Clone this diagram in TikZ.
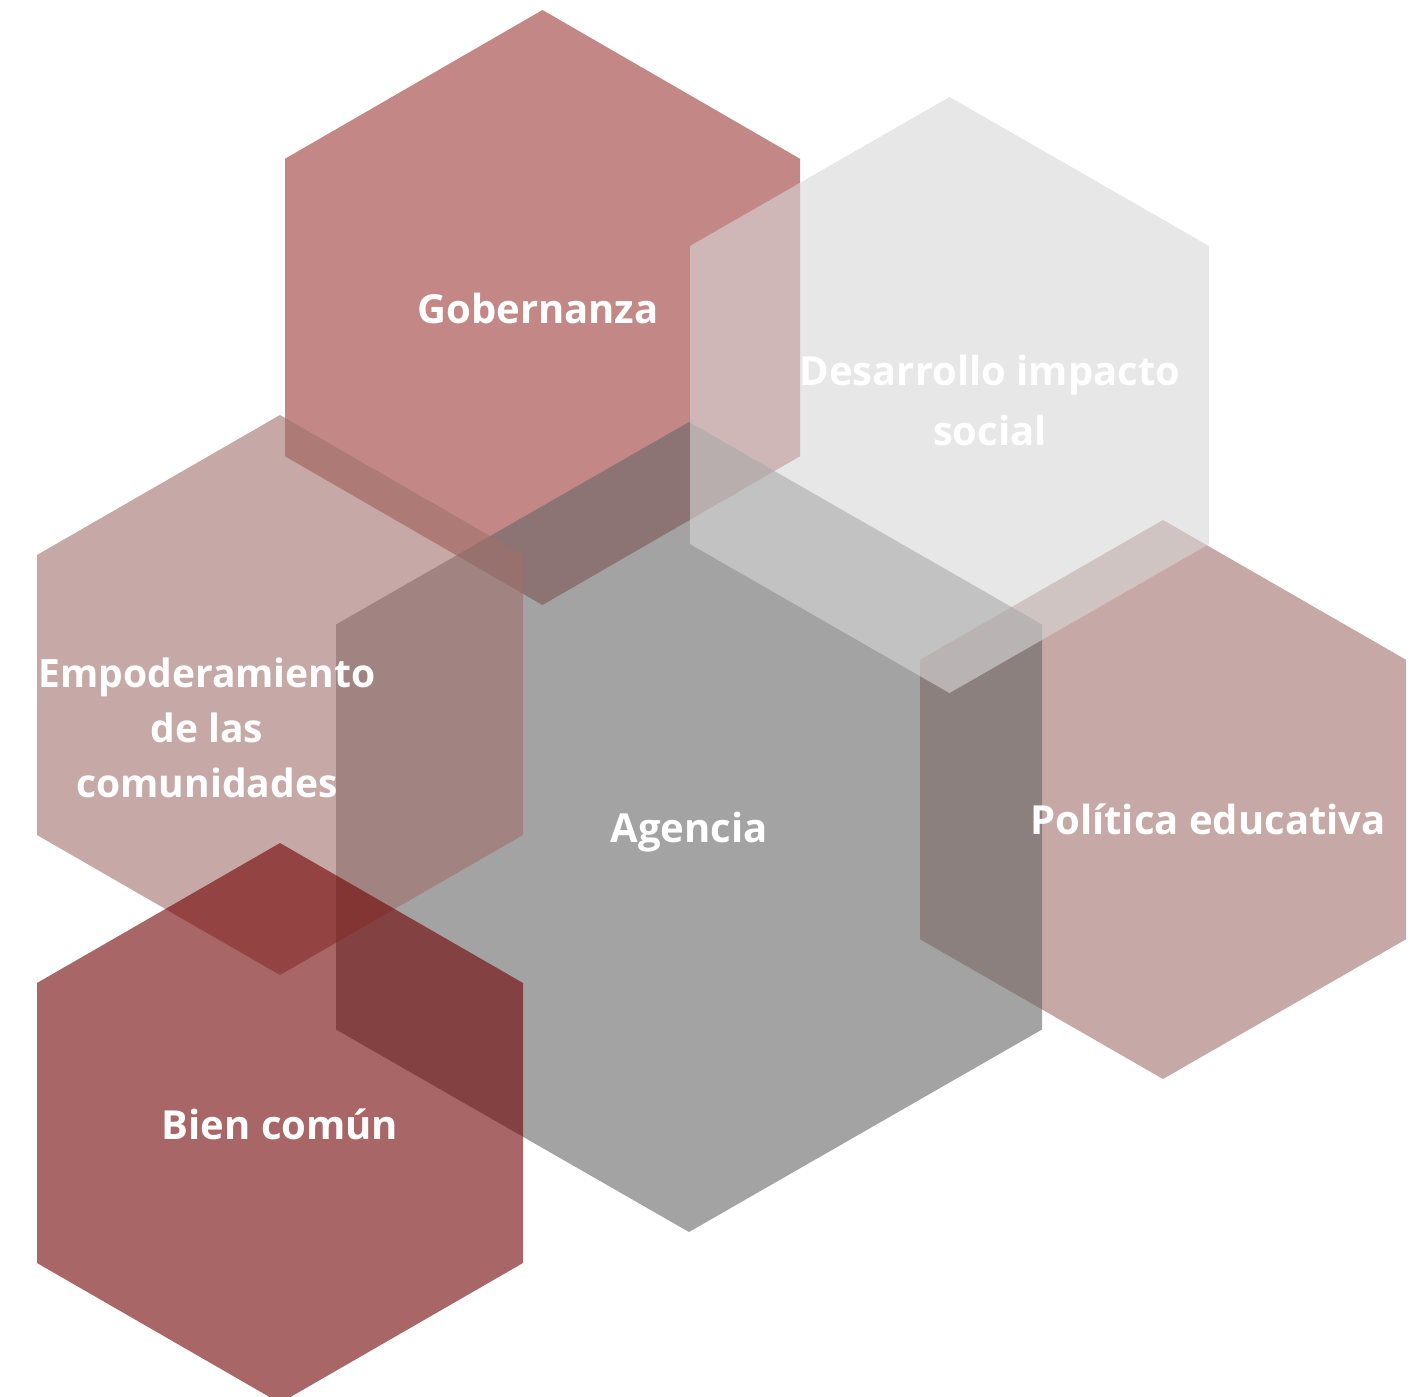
\documentclass[tikz,border=0pt]{standalone}
\usepackage{fontspec}
\setmainfont{Open Sans}
\definecolor{gobc}{RGB}{155,57,53}
\definecolor{empc}{RGB}{160,112,107}
\definecolor{agec}{RGB}{102,102,102}
\definecolor{desc}{RGB}{215,215,215}
\definecolor{bienc}{RGB}{112,0,0}
\newcommand{\hexpath}[4]{(#1,#2-#4) -- (#1+#3,#2-#4/2) -- (#1+#3,#2+#4/2) -- (#1,#2+#4) -- (#1-#3,#2+#4/2) -- (#1-#3,#2-#4/2) -- cycle}
\tikzset{
  hexa/.style={fill=#1, fill opacity=0.6, draw=none},
  lbl/.style={text=white, font=\fontsize{40}{56}\selectfont\bfseries, align=center, inner sep=0pt}
}
\begin{document}
\begin{tikzpicture}[x=1pt,y=-1pt]
\useasboundingbox (0,0) rectangle (1417,1397);
\clip (0,0) rectangle (1417,1397);
% hexagons in stacking order
\path[hexa=gobc] \hexpath{542.5}{307.5}{257.5}{297.5};
\path[hexa=empc] \hexpath{1163}{799.5}{243}{279.5};
\path[hexa=agec] \hexpath{689}{827}{353}{405};
\path[hexa=desc] \hexpath{949.5}{395}{259.5}{298};
\path[hexa=empc] \hexpath{280}{695}{243}{280};
\path[hexa=bienc] \hexpath{280}{1123}{243}{280};
% labels
\node[lbl, anchor=base] (gob) at (538,323) {Gobernanza};
\node[lbl, font=\fontsize{40}{60}\selectfont\bfseries] (des) at (990,400) {Desarrollo impacto\\social};
\node[lbl, font=\fontsize{39}{55}\selectfont\bfseries] (emp) at (207,728) {Empoderamiento\\de las\\comunidades};
\node[lbl, anchor=base] (age) at (689,842) {Agencia};
\node[lbl, anchor=base] (pol) at (1208,834) {Política educativa};
\node[lbl, anchor=base] (bien) at (280,1139) {Bien común};
\end{tikzpicture}
\end{document}
